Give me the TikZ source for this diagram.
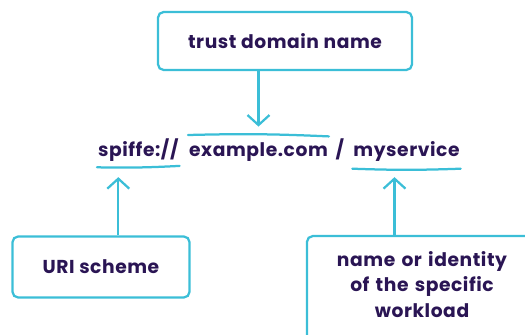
\documentclass[tikz,border=0pt]{standalone}
\usepackage{fontspec}
\setmainfont{Poppins}[BoldFont={* Bold},LetterSpace=3]
\usetikzlibrary{arrows.meta}
\usetikzlibrary{positioning}

\definecolor{linecyan}{HTML}{3BBED7}
\definecolor{textpurple}{HTML}{2A1554}

\begin{document}
\begin{tikzpicture}[line width=1.6pt,
  every node/.style={text=textpurple,font=\bfseries\fontsize{13.3}{18}\selectfont},
  labelbox/.style={rectangle,draw=linecyan,rounded corners=4pt,align=center},
  part/.style={inner sep=0pt}]
\useasboundingbox (0,0) rectangle (13.125,8.375);

\node(trust) at (7.125,7.35) [labelbox,minimum width=6.35cm,minimum height=1.45cm]{trust domain name};
\node(uri) at (2.525,1.7) [labelbox,minimum width=4.425cm,minimum height=1.525cm]{URI scheme};
\node(workload) at (10.55,2.5) [labelbox,anchor=north,minimum width=5.75cm,text width=4.8cm,inner ysep=11pt,text depth=1.5cm]{name or identity\\of the specific\\workload};

\node(scheme) at (2.425,4.45) [part,anchor=base west]{spiffe://};
\node(domain) [part,base right=6pt of scheme]{example.com};
\node(slash) [part,base right=4pt of domain]{/};
\node(svc) [part,base right=5pt of slash]{myservice};

% arrow ends
\coordinate(domaintip) at ([yshift=11pt]domain.north);
\coordinate(schemetip) at ([xshift=-0.5cm,yshift=-10pt]scheme.south);
\coordinate(svctip) at ([xshift=-0.3cm,yshift=-10pt]svc.south);

% over and under lines
\draw[linecyan,line cap=round] ([yshift=5pt]domain.north west) to[bend left=2] ([yshift=4pt]domain.north east);
\draw[linecyan,line cap=round] ([yshift=-3pt]scheme.south west) to[bend right=2] ([yshift=-2pt]scheme.south east);
\draw[linecyan,line cap=round] ([yshift=-4pt]svc.south west) to[bend right=2] ([yshift=-4pt]svc.south east);

\draw[linecyan,-{Straight Barb[length=2.5mm,width=5.5mm]}] (trust.south -| domaintip) -- (domaintip);
\draw[linecyan,-{Straight Barb[length=2.5mm,width=5.5mm]}] (uri.north -| schemetip) -- (schemetip);
\draw[linecyan,-{Straight Barb[length=2.5mm,width=5.5mm]}] (workload.north -| svctip) -- (svctip);
\end{tikzpicture}
\end{document}
